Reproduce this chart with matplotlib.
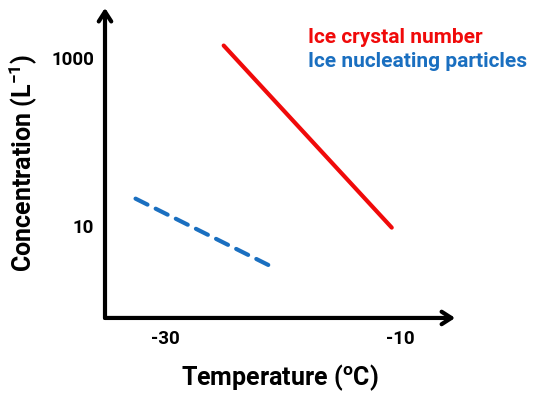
import numpy as np
import matplotlib
matplotlib.use("Agg")
import matplotlib.pyplot as plt

plt.rcParams['font.family'] = ['Roboto', 'DejaVu Sans']

# sketch of ice crystal vs INP concentration against temperature
temp_ice = [-25.0, -10.7]
conc_ice = [1390, 9.5]
temp_inp = [-32.5, -20.8]
conc_inp = [21, 3.2]
xticks = [-30, -10]
yticks = [10, 1000]

red = '#f00a0a'
blue = '#1a6fc0'

fig = plt.figure(figsize=(5.33, 3.94), dpi=100)
ax = fig.add_axes([0.197, 0.193, 0.657, 0.787])
ax.set_yscale('log')
ax.set_xlim(-35.1, -5.3)
ax.set_ylim(0.8, 3900)

ax.plot(temp_ice, conc_ice, color=red, lw=3.0, solid_capstyle='round')
ax.plot(temp_inp, conc_inp, color=blue, lw=3.0, ls=(0, (3.2, 2.2)),
        dash_capstyle='round')

for s in ax.spines.values():
    s.set_visible(False)
ax.set_xticks(xticks)
ax.set_xticklabels([str(t) for t in xticks])
ax.set_yticks(yticks)
ax.set_yticklabels([str(t) for t in yticks])
ax.minorticks_off()
ax.tick_params(length=0, labelsize=13.5)
ax.tick_params(axis='y', pad=8)
ax.tick_params(axis='x', pad=9)
for lab in ax.get_xticklabels() + ax.get_yticklabels():
    lab.set_fontweight('semibold')

# arrowed axes
arrow = dict(arrowstyle='->,head_length=0.7,head_width=0.45', lw=3,
             color='black', shrinkA=0, shrinkB=0)
ax.annotate('', xy=(1.0, 0), xytext=(0, 0), xycoords='axes fraction',
            arrowprops=arrow, annotation_clip=False)
ax.annotate('', xy=(0, 1.0), xytext=(0, 0), xycoords='axes fraction',
            arrowprops=arrow, annotation_clip=False)

ax.set_xlabel('Temperature ($^{\\mathregular{o}}$C)', fontsize=18,
              fontweight='semibold', labelpad=10)
ax.set_ylabel('Concentration (L$^{\\mathregular{-1}}$)', fontsize=18,
              fontweight='semibold', labelpad=9)

fig.text(0.578, 0.905, 'Ice crystal number', color=red, fontsize=15,
         fontweight='semibold', va='center')
fig.text(0.578, 0.845, 'Ice nucleating particles', color=blue, fontsize=15,
         fontweight='semibold', va='center')

fig.savefig('out.png', dpi=100)
